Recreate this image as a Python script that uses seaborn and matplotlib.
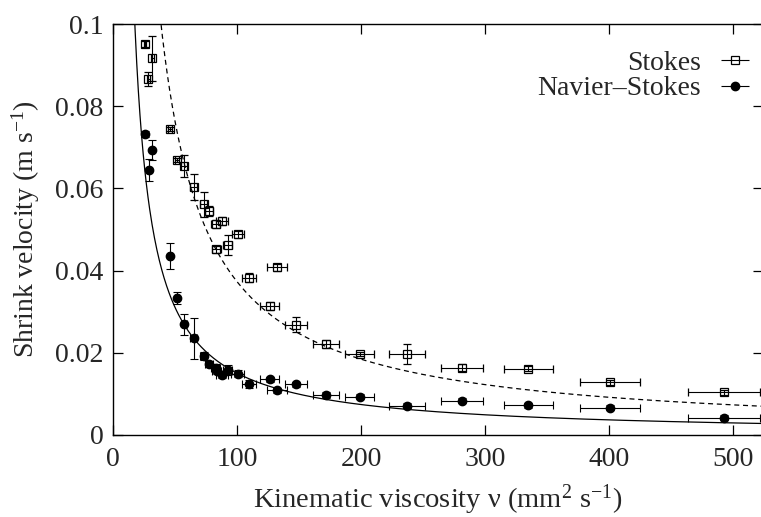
import numpy as np
import pandas as pd
import matplotlib
matplotlib.use("Agg")
import matplotlib.pyplot as plt
import seaborn as sns

# ---- data ----
nu = [25.8, 31.5, 28.5, 46.0, 51.6, 57.4, 65.0, 73.1, 77.3, 82.8, 87.9, 100.7,
      83.3, 92.5, 132.5, 109.7, 126.4, 147.3, 172.0, 199.0, 237.3, 281.2, 334.9, 401.0, 493.0]
nu_err = [1.0, 1.2, 1.2, 1.8, 2.0, 2.2, 2.6, 3.0, 3.2, 3.4, 4.8, 5.0,
          3.4, 3.8, 8.0, 5.6, 7.8, 8.8, 10.5, 11.8, 14.4, 16.8, 19.9, 24.0, 29.0]
v_stokes = [0.0951, 0.0917, 0.0866, 0.0745, 0.0669, 0.0655, 0.0604, 0.0561, 0.0545, 0.0513,
            0.0521, 0.0488, 0.0452, 0.0462, 0.0408, 0.0383, 0.0314, 0.0268, 0.0221, 0.0197,
            0.0197, 0.0164, 0.0161, 0.0128, 0.0104]
v_stokes_err = [0.0008, 0.0055, 0.0016, 0.0005, 0.0005, 0.0027, 0.0032, 0.0030, 0.0012, 0.0010,
                0.0010, 0.0008, 0.0008, 0.0024, 0.0008, 0.0010, 0.0010, 0.0018, 0.0010, 0.0006,
                0.0024, 0.0008, 0.0006, 0.0006, 0.0006]
nu_ns = [26.0, 31.5, 28.8, 46.0, 51.6, 57.5, 65.0, 73.1, 77.4, 82.8, 83.6, 87.9, 92.5,
         100.5, 109.7, 126.4, 132.5, 147.3, 172.0, 199.0, 237.3, 281.2, 334.9, 401.0, 493.0]
nu_ns_err = [1.0, 1.2, 1.2, 1.8, 2.0, 2.2, 2.6, 3.0, 3.2, 3.4, 3.4, 4.8, 3.8,
             5.0, 5.6, 7.8, 8.0, 8.8, 10.5, 11.8, 14.4, 16.8, 19.9, 24.0, 29.0]
v_ns = [0.0732, 0.0693, 0.0645, 0.0436, 0.0333, 0.0269, 0.0235, 0.0192, 0.0173, 0.0164, 0.0156,
        0.0147, 0.0158, 0.0149, 0.0125, 0.0136, 0.0109, 0.0123, 0.0097, 0.0093, 0.0071, 0.0083,
        0.0072, 0.0066, 0.0042]
v_ns_err = [0.0008, 0.0024, 0.0027, 0.0032, 0.0015, 0.0025, 0.0049, 0.0010, 0.0008, 0.0008, 0.0008,
            0.0008, 0.0012, 0.0008, 0.0010, 0.0006, 0.0006, 0.0006, 0.0008, 0.0006, 0.0006, 0.0006,
            0.0006, 0.0006, 0.0006]

# fitted model curves v = a / (nu - c)
fit_stokes = (3.65, 2.2)
fit_ns = (1.46, 3.0)

xticks = [0, 100, 200, 300, 400, 500]
yticks = [0, 0.02, 0.04, 0.06, 0.08, 0.1]
ytick_labels = ["0", "0.02", "0.04", "0.06", "0.08", "0.1"]
series_labels = ["Stokes", "Navier–Stokes"]

# ---- style ----
sns.set_theme(style="ticks")
plt.rcParams["font.family"] = ["Liberation Serif", "DejaVu Serif"]
plt.rcParams["mathtext.fontset"] = "custom"
plt.rcParams["mathtext.rm"] = "Liberation Serif"
plt.rcParams["mathtext.it"] = "Liberation Serif:italic"
plt.rcParams["mathtext.bf"] = "Liberation Serif:bold"

FS = 20
fig = plt.figure(figsize=(7.61, 5.17), dpi=100)
xmax = 524.0
ax = fig.add_axes([113 / 761, 1 - 435 / 517, (xmax * 1.24) / 761, 411 / 517])

# model curves
curves = []
for (a, c), name in [(fit_ns, "ns"), (fit_stokes, "st")]:
    xs = np.linspace(c + 0.5, xmax, 800)
    curves.append(pd.DataFrame({"x": xs, "y": a / (xs - c), "fit": name}))
cdf = pd.concat(curves)
sns.lineplot(data=cdf[cdf.fit == "ns"], x="x", y="y", ax=ax, color="black", lw=0.9)
sns.lineplot(data=cdf[cdf.fit == "st"], x="x", y="y", ax=ax, color="black", lw=0.9)
ax.get_lines()[1].set_dashes([4, 3])

ebkw = dict(ecolor="black", elinewidth=0.8, capsize=2.6, capthick=0.8, color="black", zorder=3)
ax.errorbar(nu, v_stokes, xerr=nu_err, yerr=v_stokes_err, fmt="s", ms=6.2,
            mfc="none", mec="black", mew=0.9, **ebkw)
ax.errorbar(nu_ns, v_ns, xerr=nu_ns_err, yerr=v_ns_err, fmt="o", ms=6.0,
            mfc="black", mec="black", **ebkw)

# legend proxies (horizontal bars only, as in the reference)
p1 = ax.errorbar([], [], xerr=[], fmt="s", ms=6.2, mfc="none", mec="black", mew=0.9,
                 label=series_labels[0], **ebkw)
p2 = ax.errorbar([], [], xerr=[], fmt="o", ms=6.0, mfc="black", mec="black",
                 label=series_labels[1], **ebkw)

ax.set_xlim(0, xmax)
ax.set_ylim(0, 0.1)
ax.set_xticks(xticks)
ax.set_yticks(yticks)
ax.set_yticklabels(ytick_labels)
ax.tick_params(axis="both", which="both", direction="in", length=7, width=0.9,
               top=True, right=True, labelsize=FS, color="black")
ax.tick_params(axis="x", pad=9)
ax.tick_params(axis="y", pad=7)
for s in ax.spines.values():
    s.set_linewidth(1.0)
    s.set_color("black")

ax.set_xlabel(r"Kinematic viscosity ν (mm$^{2}$ s$^{-1}$)", fontsize=FS + 0.5, labelpad=7)
ax.set_ylabel(r"Shrink velocity (m s$^{-1}$)", fontsize=FS, labelpad=9)

leg = ax.legend(handles=[p1, p2], loc="upper right", bbox_to_anchor=(1.003, 0.976),
                frameon=False, markerfirst=False, fontsize=FS, handlelength=0.95,
                labelspacing=0.0, handletextpad=0.75, borderaxespad=0.2)
leg._legend_box.align = "right"
for t in leg.get_texts():
    t.set_ha("right")

fig.savefig("out.png", dpi=100)
